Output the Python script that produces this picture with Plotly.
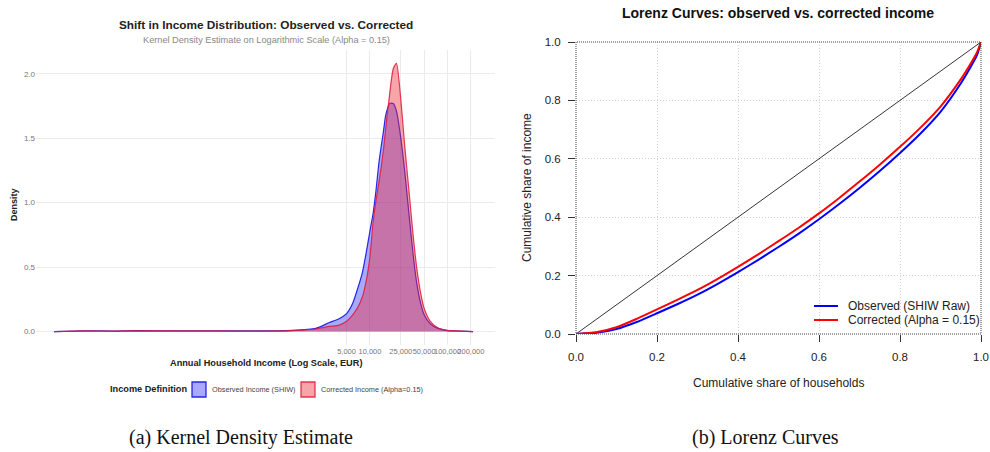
import plotly.graph_objects as go

# ---- Kernel density estimates (income in EUR, log x axis) ----
income_eur = [0.85, 2, 5, 10, 30, 100, 300, 1000, 2000, 3000, 4000, 5000, 6000,
              7000, 8000, 9000, 10000, 11000, 12000, 13000, 14000, 15000, 16000,
              18000, 20000, 22000, 25000, 28000, 32000, 36000, 40000, 45000,
              50000, 60000, 75000, 100000, 150000, 213000]
density_observed = [0.0, 0.006, 0.004, 0.007, 0.005, 0.006, 0.005, 0.01, 0.025,
                    0.07, 0.10, 0.14, 0.22, 0.34, 0.46, 0.62, 0.78, 0.92, 1.10,
                    1.30, 1.44, 1.56, 1.68, 1.77, 1.77, 1.71, 1.50, 1.25, 0.90,
                    0.60, 0.38, 0.22, 0.13, 0.06, 0.025, 0.008, 0.004, 0.0]
density_corrected = [0.0, 0.005, 0.004, 0.006, 0.005, 0.005, 0.004, 0.008, 0.02,
                     0.04, 0.05, 0.08, 0.13, 0.19, 0.27, 0.40, 0.58, 0.85, 1.02,
                     1.15, 1.28, 1.42, 1.58, 1.85, 2.04, 2.08, 1.80, 1.45, 1.08,
                     0.75, 0.50, 0.30, 0.18, 0.08, 0.03, 0.01, 0.004, 0.0]
income_ticks = [5000, 10000, 25000, 50000, 100000, 200000]
income_tick_labels = ["5,000", "10,000", "25,000", "50,000", "100,000", "200,000"]
density_ticks = [0.0, 0.5, 1.0, 1.5, 2.0]
density_series_names = ["Observed Income (SHIW)", "Corrected Income (Alpha=0.15)"]

# ---- Lorenz curves ----
share_households = [0.0, 0.05, 0.1, 0.15, 0.2, 0.25, 0.3, 0.35, 0.4, 0.45, 0.5,
                    0.55, 0.6, 0.65, 0.7, 0.75, 0.8, 0.85, 0.9, 0.95, 0.975,
                    0.99, 1.0]
share_observed = [0.0, 0.004, 0.017, 0.041, 0.071, 0.102, 0.135, 0.172, 0.212,
                  0.254, 0.298, 0.344, 0.393, 0.445, 0.500, 0.558, 0.620, 0.686,
                  0.761, 0.858, 0.916, 0.955, 1.0]
share_corrected = [0.0, 0.006, 0.023, 0.052, 0.084, 0.117, 0.151, 0.189, 0.230,
                   0.273, 0.318, 0.364, 0.413, 0.466, 0.522, 0.580, 0.641, 0.706,
                   0.779, 0.872, 0.927, 0.964, 1.0]
equality = [0.0, 1.0]
lorenz_ticks = [0.0, 0.2, 0.4, 0.6, 0.8, 1.0]
lorenz_series_names = ["Observed (SHIW Raw)", "Corrected (Alpha = 0.15)"]

W, H = 990, 452


def px_x(p):
    return p / W


def px_y(p):
    return 1 - p / H


SANS = "Liberation Sans, Arial, sans-serif"
SERIF = "Liberation Serif, Times New Roman, serif"

BLUE_LINE, BLUE_FILL = "rgba(20,20,230,0.9)", "rgba(40,40,255,0.40)"
RED_LINE, RED_FILL = "rgba(225,25,60,0.85)", "rgba(235,40,50,0.42)"

fig = go.Figure()

# Density areas
fig.add_trace(go.Scatter(
    x=income_eur, y=density_observed, mode="lines", fill="tozeroy",
    line=dict(color=BLUE_LINE, width=1.2, shape="spline", smoothing=0.6),
    fillcolor=BLUE_FILL, name=density_series_names[0], showlegend=False,
    xaxis="x", yaxis="y"))
fig.add_trace(go.Scatter(
    x=income_eur, y=density_corrected, mode="lines", fill="tozeroy",
    line=dict(color=RED_LINE, width=1.2, shape="spline", smoothing=0.6),
    fillcolor=RED_FILL, name=density_series_names[1], showlegend=False,
    xaxis="x", yaxis="y"))

# Lorenz curves
fig.add_trace(go.Scatter(
    x=equality, y=equality, mode="lines", line=dict(color="black", width=0.8),
    showlegend=False, xaxis="x2", yaxis="y2"))
fig.add_trace(go.Scatter(
    x=share_households, y=share_observed, mode="lines",
    line=dict(color="#0000ff", width=2, shape="spline", smoothing=0.6),
    name=lorenz_series_names[0], showlegend=False, xaxis="x2", yaxis="y2"))
fig.add_trace(go.Scatter(
    x=share_households, y=share_corrected, mode="lines",
    line=dict(color="#ff0000", width=2, shape="spline", smoothing=0.6),
    name=lorenz_series_names[1], showlegend=False, xaxis="x2", yaxis="y2"))

fig.update_layout(
    width=W, height=H, margin=dict(l=0, r=0, t=0, b=0, autoexpand=False),
    paper_bgcolor="white", plot_bgcolor="white",
    font=dict(family=SANS, color="#222"),
    showlegend=False,
    xaxis=dict(
        type="log", domain=[px_x(36), px_x(495)], range=[-0.304, 5.612],
        tickvals=income_ticks, ticktext=income_tick_labels, tickangle=0,
        tickfont=dict(size=7.5, color="#777"), showgrid=True, gridcolor="#ebebeb",
        gridwidth=0.8, zeroline=False, showline=False, ticks="", anchor="y",
        automargin=False),
    yaxis=dict(
        domain=[px_y(345), px_y(50)], range=[-0.104, 2.184],
        tickvals=density_ticks, tickformat=".1f",
        tickfont=dict(size=8, color="#777"), showgrid=True, gridcolor="#ebebeb",
        gridwidth=0.8, zeroline=False, showline=False, ticks="", anchor="x",
        automargin=False),
    xaxis2=dict(
        domain=[px_x(576), px_x(981)], range=[0, 1], tickvals=lorenz_ticks,
        tickformat=".1f", tickfont=dict(size=11.5, color="#222"),
        ticks="outside", ticklen=7, tickcolor="#333", ticklabelstandoff=5,
        showgrid=True, gridcolor="#d0d0d0", griddash="1px,2px", gridwidth=1,
        zeroline=False, showline=False, anchor="y2", automargin=False),
    yaxis2=dict(
        domain=[px_y(334), px_y(42)], range=[0, 1], tickvals=lorenz_ticks,
        tickformat=".1f", tickfont=dict(size=11.5, color="#222"),
        ticks="outside", ticklen=7, tickcolor="#333", ticklabelstandoff=5,
        showgrid=True, gridcolor="#d0d0d0", griddash="1px,2px", gridwidth=1,
        zeroline=False, showline=False, anchor="x2", automargin=False),
)

# Frame around the Lorenz panel
fig.add_shape(type="rect", xref="x2 domain", yref="y2 domain", x0=0, x1=1, y0=0, y1=1,
              line=dict(color="#444", width=1, dash="1px,1px"), layer="above")

# Legend of the density panel: filled key boxes
for (x0, fill, line) in [(192, BLUE_FILL, BLUE_LINE), (301, RED_FILL, RED_LINE)]:
    fig.add_shape(type="rect", xref="paper", yref="paper",
                  x0=px_x(x0), x1=px_x(x0 + 14), y0=px_y(397), y1=px_y(382),
                  fillcolor=fill, line=dict(color=line, width=1.3))

# Legend of the Lorenz panel: line keys
for (yy, color) in [(306, "#0000ff"), (320, "#ff0000")]:
    fig.add_shape(type="line", xref="paper", yref="paper",
                  x0=px_x(814), x1=px_x(838), y0=px_y(yy), y1=px_y(yy),
                  line=dict(color=color, width=2))

annotations = [
    # Density panel titles
    dict(text="<b>Shift in Income Distribution: Observed vs. Corrected</b>",
         x=px_x(266), y=px_y(25), font=dict(size=11.8, color="#222")),
    dict(text="Kernel Density Estimate on Logarithmic Scale (Alpha = 0.15)",
         x=px_x(266), y=px_y(40), font=dict(size=9.2, color="#888")),
    dict(text="<b>Annual Household Income (Log Scale, EUR)</b>",
         x=px_x(266), y=px_y(363), font=dict(size=9.2, color="#222")),
    dict(text="<b>Density</b>", x=px_x(14), y=px_y(205), textangle=-90,
         font=dict(size=9, color="#222")),
    # Density legend labels
    dict(text="<b>Income Definition</b>", x=px_x(108), y=px_y(389), xanchor="left",
         font=dict(size=9.2, color="#222")),
    dict(text=density_series_names[0], x=px_x(210), y=px_y(389), xanchor="left",
         font=dict(size=7.3, color="#444")),
    dict(text=density_series_names[1], x=px_x(319), y=px_y(389), xanchor="left",
         font=dict(size=7.3, color="#444")),
    # Lorenz panel titles
    dict(text="<b>Lorenz Curves: observed vs. corrected income</b>",
         x=px_x(778), y=px_y(13), font=dict(size=14, color="#111")),
    dict(text="Cumulative share of households", x=px_x(778), y=px_y(383),
         font=dict(size=12, color="#222")),
    dict(text="Cumulative share of income", x=px_x(527), y=px_y(188), textangle=-90,
         font=dict(size=12, color="#222")),
    # Lorenz legend labels
    dict(text=lorenz_series_names[0], x=px_x(846), y=px_y(306), xanchor="left",
         font=dict(size=12, color="#222")),
    dict(text=lorenz_series_names[1], x=px_x(846), y=px_y(320), xanchor="left",
         font=dict(size=12, color="#222")),
    # Sub-figure captions
    dict(text="(a) Kernel Density Estimate", x=px_x(241), y=px_y(437),
         font=dict(size=20, family=SERIF, color="#111")),
    dict(text="(b) Lorenz Curves", x=px_x(765), y=px_y(437),
         font=dict(size=20, family=SERIF, color="#111")),
]
for a in annotations:
    a.setdefault("xanchor", "center")
    fig.add_annotation(xref="paper", yref="paper", showarrow=False,
                       yanchor="middle", **a)

fig.write_html("out.html")
